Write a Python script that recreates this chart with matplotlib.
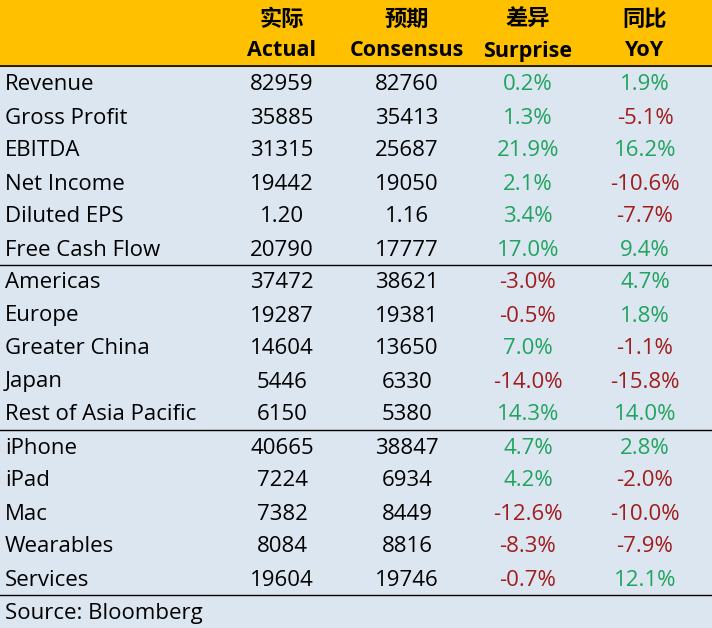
import matplotlib.pyplot as plt
from matplotlib.patches import Rectangle

plt.rcParams["font.family"] = ["Open Sans", "Noto Sans CJK SC", "DejaVu Sans"]

header_cn = ["实际", "预期", "差异", "同比"]
header_en = ["Actual", "Consensus", "Surprise", "YoY"]

labels = ["Revenue", "Gross Profit", "EBITDA", "Net Income", "Diluted EPS",
          "Free Cash Flow", "Americas", "Europe", "Greater China", "Japan",
          "Rest of Asia Pacific", "iPhone", "iPad", "Mac", "Wearables", "Services"]
actual = ["82959", "35885", "31315", "19442", "1.20", "20790", "37472", "19287",
          "14604", "5446", "6150", "40665", "7224", "7382", "8084", "19604"]
consensus = ["82760", "35413", "25687", "19050", "1.16", "17777", "38621", "19381",
             "13650", "6330", "5380", "38847", "6934", "8449", "8816", "19746"]
surprise = [0.2, 1.3, 21.9, 2.1, 3.4, 17.0, -3.0, -0.5, 7.0, -14.0, 14.3,
            4.7, 4.2, -12.6, -8.3, -0.7]
yoy = [1.9, -5.1, 16.2, -10.6, -7.7, 9.4, 4.7, 1.8, -1.1, -15.8, 14.0,
       2.8, -2.0, -10.0, -7.9, 12.1]
group_ends = [5, 10, 15]
source = "Source: Bloomberg"

W, H = 712, 628
fig = plt.figure(figsize=(W / 100, H / 100), dpi=100)
ax = fig.add_axes([0, 0, 1, 1])
ax.set_xlim(0, W)
ax.set_ylim(H, 0)
ax.axis("off")

bg = "#DCE6F1"
yellow = "#FFC000"
green = "#21A35F"
red = "#A11C1C"

ax.add_patch(Rectangle((0, 0), W, H, color=bg, zorder=0))
ax.add_patch(Rectangle((0, 0), W, 66, color=yellow, zorder=1))
ax.plot([0, W], [66, 66], color="black", lw=1.2, zorder=2)

col_x = [282, 407, 528, 645]
fs = 16
for x, cn, en in zip(col_x, header_cn, header_en):
    ax.text(x, 19, cn, ha="center", va="center", fontsize=16,
            fontweight="bold", family=["Noto Sans CJK SC", "DejaVu Sans"])
    ax.text(x, 51, en, ha="center", va="center", fontsize=15.5, fontweight="bold")

row_h = 33
y0 = 83
dy = 2
for i, lab in enumerate(labels):
    y = y0 + i * row_h
    ax.text(5, y + dy, lab, ha="left", va="center", fontsize=fs)
    ax.text(col_x[0], y + dy, actual[i], ha="center", va="center", fontsize=fs)
    ax.text(col_x[1], y + dy, consensus[i], ha="center", va="center", fontsize=fs)
    for x, v in ((col_x[2], surprise[i]), (col_x[3], yoy[i])):
        ax.text(x, y + dy, f"{v:.1f}%", ha="center", va="center", fontsize=fs,
                color=green if v >= 0 else red)
    if i in group_ends:
        yl = y + row_h / 2
        ax.plot([0, W], [yl, yl], color="black", lw=1.0, zorder=2)

ax.text(5, y0 + len(labels) * row_h + dy, source, ha="left", va="center", fontsize=fs)

fig.savefig("out.png", dpi=100)
